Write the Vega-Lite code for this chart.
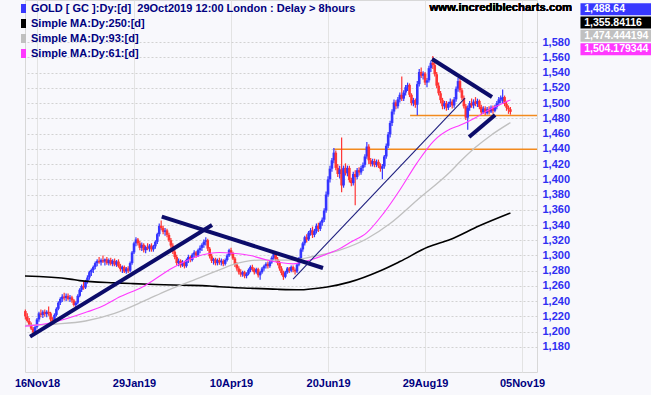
{
  "$schema": "https://vega.github.io/schema/vega-lite/v6.json",
  "width": 512,
  "height": 372,
  "autosize": {"type": "none"},
  "padding": {"left": 25, "top": 0, "right": 114, "bottom": 23},
  "background": "#f8f8fc",
  "datasets": {
    "ohlc": [
      {"i":-6,"o":1227,"h":1229,"l":1216,"c":1220},{"i":-5,"o":1220,"h":1224,"l":1212,"c":1214},{"i":-4,"o":1214,"h":1218,"l":1207,"c":1209},{"i":-3,"o":1209,"h":1212,"l":1202,"c":1204},{"i":-2,"o":1204,"h":1206,"l":1197,"c":1199},{"i":-1,"o":1199,"h":1208,"l":1196,"c":1206},
      {"i":0,"o":1206,"h":1218,"l":1204,"c":1216},{"i":1,"o":1216,"h":1226,"l":1213,"c":1224},{"i":2,"o":1224,"h":1229,"l":1219,"c":1222},{"i":3,"o":1222,"h":1228,"l":1218,"c":1226},{"i":4,"o":1226,"h":1229,"l":1220,"c":1223},{"i":5,"o":1223,"h":1228,"l":1219,"c":1226},{"i":6,"o":1226,"h":1233,"l":1221,"c":1224},{"i":7,"o":1224,"h":1226,"l":1213,"c":1216},{"i":8,"o":1216,"h":1219,"l":1209,"c":1213},{"i":9,"o":1213,"h":1224,"l":1211,"c":1222},
      {"i":10,"o":1222,"h":1232,"l":1220,"c":1230},{"i":11,"o":1230,"h":1240,"l":1228,"c":1238},{"i":12,"o":1238,"h":1245,"l":1235,"c":1243},{"i":13,"o":1243,"h":1249,"l":1239,"c":1246},{"i":14,"o":1246,"h":1251,"l":1241,"c":1244},{"i":15,"o":1244,"h":1250,"l":1240,"c":1247},{"i":16,"o":1247,"h":1250,"l":1241,"c":1243},{"i":17,"o":1243,"h":1248,"l":1239,"c":1245},{"i":18,"o":1245,"h":1247,"l":1238,"c":1241},{"i":19,"o":1241,"h":1243,"l":1233,"c":1235},
      {"i":20,"o":1235,"h":1240,"l":1231,"c":1238},{"i":21,"o":1238,"h":1249,"l":1236,"c":1247},{"i":22,"o":1247,"h":1257,"l":1245,"c":1255},{"i":23,"o":1255,"h":1262,"l":1252,"c":1260},{"i":24,"o":1260,"h":1266,"l":1255,"c":1258},{"i":25,"o":1258,"h":1268,"l":1256,"c":1266},{"i":26,"o":1266,"h":1274,"l":1263,"c":1271},{"i":27,"o":1271,"h":1280,"l":1268,"c":1278},{"i":28,"o":1278,"h":1283,"l":1273,"c":1281},{"i":29,"o":1281,"h":1287,"l":1277,"c":1285},
      {"i":30,"o":1285,"h":1292,"l":1282,"c":1290},{"i":31,"o":1290,"h":1295,"l":1286,"c":1293},{"i":32,"o":1293,"h":1298,"l":1289,"c":1291},{"i":33,"o":1291,"h":1296,"l":1287,"c":1294},{"i":34,"o":1294,"h":1300,"l":1290,"c":1292},{"i":35,"o":1292,"h":1296,"l":1287,"c":1295},{"i":36,"o":1295,"h":1298,"l":1288,"c":1290},{"i":37,"o":1290,"h":1296,"l":1287,"c":1294},{"i":38,"o":1294,"h":1297,"l":1287,"c":1289},{"i":39,"o":1289,"h":1295,"l":1286,"c":1293},
      {"i":40,"o":1293,"h":1296,"l":1286,"c":1288},{"i":41,"o":1288,"h":1294,"l":1285,"c":1292},{"i":42,"o":1292,"h":1295,"l":1284,"c":1286},{"i":43,"o":1286,"h":1289,"l":1279,"c":1282},{"i":44,"o":1282,"h":1287,"l":1277,"c":1285},{"i":45,"o":1285,"h":1287,"l":1277,"c":1279},{"i":46,"o":1279,"h":1285,"l":1276,"c":1283},{"i":47,"o":1283,"h":1286,"l":1277,"c":1280},{"i":48,"o":1280,"h":1292,"l":1278,"c":1290},{"i":49,"o":1290,"h":1306,"l":1288,"c":1304},
      {"i":50,"o":1304,"h":1318,"l":1302,"c":1316},{"i":51,"o":1316,"h":1324,"l":1312,"c":1321},{"i":52,"o":1321,"h":1323,"l":1313,"c":1316},{"i":53,"o":1316,"h":1319,"l":1307,"c":1310},{"i":54,"o":1310,"h":1317,"l":1306,"c":1314},{"i":55,"o":1314,"h":1316,"l":1304,"c":1307},{"i":56,"o":1307,"h":1313,"l":1303,"c":1311},{"i":57,"o":1311,"h":1316,"l":1307,"c":1309},{"i":58,"o":1309,"h":1315,"l":1305,"c":1313},{"i":59,"o":1313,"h":1316,"l":1305,"c":1308},
      {"i":60,"o":1308,"h":1314,"l":1305,"c":1312},{"i":61,"o":1312,"h":1320,"l":1309,"c":1318},{"i":62,"o":1318,"h":1330,"l":1315,"c":1328},{"i":63,"o":1328,"h":1342,"l":1325,"c":1339},{"i":64,"o":1339,"h":1346,"l":1333,"c":1336},{"i":65,"o":1336,"h":1339,"l":1328,"c":1331},{"i":66,"o":1331,"h":1336,"l":1326,"c":1333},{"i":67,"o":1333,"h":1335,"l":1324,"c":1327},{"i":68,"o":1327,"h":1330,"l":1318,"c":1320},{"i":69,"o":1320,"h":1323,"l":1310,"c":1313},
      {"i":70,"o":1313,"h":1316,"l":1302,"c":1305},{"i":71,"o":1305,"h":1308,"l":1295,"c":1298},{"i":72,"o":1298,"h":1301,"l":1287,"c":1290},{"i":73,"o":1290,"h":1296,"l":1286,"c":1293},{"i":74,"o":1293,"h":1295,"l":1284,"c":1287},{"i":75,"o":1287,"h":1294,"l":1285,"c":1291},{"i":76,"o":1291,"h":1293,"l":1283,"c":1286},{"i":77,"o":1286,"h":1296,"l":1284,"c":1294},{"i":78,"o":1294,"h":1301,"l":1290,"c":1298},{"i":79,"o":1298,"h":1300,"l":1291,"c":1294},
      {"i":80,"o":1294,"h":1303,"l":1292,"c":1301},{"i":81,"o":1301,"h":1307,"l":1297,"c":1304},{"i":82,"o":1304,"h":1306,"l":1297,"c":1300},{"i":83,"o":1300,"h":1309,"l":1298,"c":1307},{"i":84,"o":1307,"h":1313,"l":1303,"c":1310},{"i":85,"o":1310,"h":1316,"l":1306,"c":1314},{"i":86,"o":1314,"h":1321,"l":1310,"c":1318},{"i":87,"o":1318,"h":1324,"l":1313,"c":1320},{"i":88,"o":1320,"h":1322,"l":1306,"c":1309},{"i":89,"o":1309,"h":1311,"l":1296,"c":1299},
      {"i":90,"o":1299,"h":1302,"l":1290,"c":1293},{"i":91,"o":1293,"h":1297,"l":1288,"c":1295},{"i":92,"o":1295,"h":1297,"l":1287,"c":1290},{"i":93,"o":1290,"h":1296,"l":1287,"c":1294},{"i":94,"o":1294,"h":1297,"l":1288,"c":1291},{"i":95,"o":1291,"h":1296,"l":1287,"c":1293},{"i":96,"o":1293,"h":1295,"l":1286,"c":1289},{"i":97,"o":1289,"h":1296,"l":1287,"c":1294},{"i":98,"o":1294,"h":1302,"l":1292,"c":1300},{"i":99,"o":1300,"h":1309,"l":1298,"c":1307},
      {"i":100,"o":1307,"h":1310,"l":1300,"c":1303},{"i":101,"o":1303,"h":1305,"l":1294,"c":1296},{"i":102,"o":1296,"h":1298,"l":1285,"c":1288},{"i":103,"o":1288,"h":1291,"l":1280,"c":1283},{"i":104,"o":1283,"h":1286,"l":1275,"c":1278},{"i":105,"o":1278,"h":1282,"l":1272,"c":1275},{"i":106,"o":1275,"h":1280,"l":1272,"c":1278},{"i":107,"o":1278,"h":1280,"l":1270,"c":1273},{"i":108,"o":1273,"h":1278,"l":1270,"c":1276},{"i":109,"o":1276,"h":1283,"l":1274,"c":1281},
      {"i":110,"o":1281,"h":1287,"l":1278,"c":1285},{"i":111,"o":1285,"h":1288,"l":1279,"c":1282},{"i":112,"o":1282,"h":1284,"l":1275,"c":1278},{"i":113,"o":1278,"h":1284,"l":1276,"c":1282},{"i":114,"o":1282,"h":1284,"l":1271,"c":1274},{"i":115,"o":1274,"h":1280,"l":1268,"c":1278},{"i":116,"o":1278,"h":1285,"l":1276,"c":1283},{"i":117,"o":1283,"h":1288,"l":1280,"c":1286},{"i":118,"o":1286,"h":1291,"l":1283,"c":1289},{"i":119,"o":1289,"h":1292,"l":1283,"c":1286},
      {"i":120,"o":1286,"h":1293,"l":1284,"c":1291},{"i":121,"o":1291,"h":1299,"l":1289,"c":1297},{"i":122,"o":1297,"h":1306,"l":1294,"c":1302},{"i":123,"o":1302,"h":1304,"l":1292,"c":1295},{"i":124,"o":1295,"h":1298,"l":1287,"c":1290},{"i":125,"o":1290,"h":1293,"l":1280,"c":1283},{"i":126,"o":1283,"h":1286,"l":1274,"c":1277},{"i":127,"o":1277,"h":1280,"l":1268,"c":1272},{"i":128,"o":1272,"h":1280,"l":1270,"c":1278},{"i":129,"o":1278,"h":1285,"l":1276,"c":1283},
      {"i":130,"o":1283,"h":1285,"l":1277,"c":1280},{"i":131,"o":1280,"h":1287,"l":1278,"c":1285},{"i":132,"o":1285,"h":1287,"l":1278,"c":1281},{"i":133,"o":1281,"h":1283,"l":1275,"c":1279},{"i":134,"o":1279,"h":1290,"l":1277,"c":1288},{"i":135,"o":1288,"h":1298,"l":1286,"c":1296},{"i":136,"o":1296,"h":1310,"l":1294,"c":1308},{"i":137,"o":1308,"h":1318,"l":1305,"c":1316},{"i":138,"o":1316,"h":1326,"l":1313,"c":1324},{"i":139,"o":1324,"h":1328,"l":1317,"c":1321},
      {"i":140,"o":1321,"h":1332,"l":1319,"c":1330},{"i":141,"o":1330,"h":1336,"l":1326,"c":1333},{"i":142,"o":1333,"h":1338,"l":1323,"c":1327},{"i":143,"o":1327,"h":1335,"l":1324,"c":1332},{"i":144,"o":1332,"h":1342,"l":1329,"c":1339},{"i":145,"o":1339,"h":1343,"l":1331,"c":1335},{"i":146,"o":1335,"h":1345,"l":1332,"c":1343},{"i":147,"o":1343,"h":1350,"l":1339,"c":1347},{"i":148,"o":1347,"h":1362,"l":1344,"c":1359},{"i":149,"o":1359,"h":1384,"l":1356,"c":1380},
      {"i":150,"o":1380,"h":1404,"l":1377,"c":1400},{"i":151,"o":1400,"h":1418,"l":1396,"c":1414},{"i":152,"o":1414,"h":1428,"l":1410,"c":1425},{"i":153,"o":1425,"h":1441,"l":1421,"c":1435},{"i":154,"o":1435,"h":1438,"l":1412,"c":1415},{"i":155,"o":1415,"h":1420,"l":1403,"c":1407},{"i":156,"o":1407,"h":1418,"l":1401,"c":1413},{"i":157,"o":1413,"h":1455,"l":1383,"c":1392},{"i":158,"o":1392,"h":1418,"l":1389,"c":1415},{"i":159,"o":1415,"h":1421,"l":1405,"c":1408},
      {"i":160,"o":1408,"h":1418,"l":1404,"c":1415},{"i":161,"o":1415,"h":1418,"l":1396,"c":1399},{"i":162,"o":1399,"h":1402,"l":1391,"c":1395},{"i":163,"o":1395,"h":1410,"l":1392,"c":1407},{"i":164,"o":1407,"h":1412,"l":1366,"c":1403},{"i":165,"o":1403,"h":1415,"l":1400,"c":1412},{"i":166,"o":1412,"h":1416,"l":1405,"c":1409},{"i":167,"o":1409,"h":1418,"l":1406,"c":1415},{"i":168,"o":1415,"h":1422,"l":1411,"c":1419},{"i":169,"o":1419,"h":1433,"l":1416,"c":1430},
      {"i":170,"o":1430,"h":1449,"l":1427,"c":1443},{"i":171,"o":1443,"h":1446,"l":1420,"c":1425},{"i":172,"o":1425,"h":1428,"l":1417,"c":1420},{"i":173,"o":1420,"h":1427,"l":1417,"c":1424},{"i":174,"o":1424,"h":1427,"l":1416,"c":1419},{"i":175,"o":1419,"h":1426,"l":1416,"c":1423},{"i":176,"o":1423,"h":1426,"l":1415,"c":1418},{"i":177,"o":1418,"h":1421,"l":1410,"c":1414},{"i":178,"o":1414,"h":1420,"l":1400,"c":1417},{"i":179,"o":1417,"h":1432,"l":1414,"c":1430},
      {"i":180,"o":1430,"h":1447,"l":1427,"c":1444},{"i":181,"o":1444,"h":1462,"l":1441,"c":1459},{"i":182,"o":1459,"h":1477,"l":1455,"c":1474},{"i":183,"o":1474,"h":1492,"l":1470,"c":1489},{"i":184,"o":1489,"h":1505,"l":1485,"c":1501},{"i":185,"o":1501,"h":1504,"l":1492,"c":1496},{"i":186,"o":1496,"h":1508,"l":1493,"c":1505},{"i":187,"o":1505,"h":1514,"l":1501,"c":1511},{"i":188,"o":1511,"h":1535,"l":1503,"c":1506},{"i":189,"o":1506,"h":1517,"l":1503,"c":1514},
      {"i":190,"o":1514,"h":1524,"l":1510,"c":1521},{"i":191,"o":1521,"h":1527,"l":1516,"c":1524},{"i":192,"o":1524,"h":1526,"l":1508,"c":1511},{"i":193,"o":1511,"h":1513,"l":1497,"c":1500},{"i":194,"o":1500,"h":1507,"l":1496,"c":1504},{"i":195,"o":1504,"h":1506,"l":1494,"c":1498},{"i":196,"o":1498,"h":1529,"l":1484,"c":1525},{"i":197,"o":1525,"h":1545,"l":1522,"c":1541},{"i":198,"o":1541,"h":1547,"l":1533,"c":1536},{"i":199,"o":1536,"h":1542,"l":1531,"c":1539},
      {"i":200,"o":1539,"h":1541,"l":1524,"c":1527},{"i":201,"o":1527,"h":1533,"l":1521,"c":1530},{"i":202,"o":1530,"h":1549,"l":1527,"c":1546},{"i":203,"o":1546,"h":1556,"l":1541,"c":1553},{"i":204,"o":1553,"h":1562,"l":1545,"c":1550},{"i":205,"o":1550,"h":1554,"l":1535,"c":1538},{"i":206,"o":1538,"h":1541,"l":1520,"c":1523},{"i":207,"o":1523,"h":1527,"l":1510,"c":1513},{"i":208,"o":1513,"h":1516,"l":1500,"c":1504},{"i":209,"o":1504,"h":1507,"l":1492,"c":1496},
      {"i":210,"o":1496,"h":1503,"l":1492,"c":1500},{"i":211,"o":1500,"h":1503,"l":1490,"c":1494},{"i":212,"o":1494,"h":1502,"l":1491,"c":1499},{"i":213,"o":1499,"h":1506,"l":1495,"c":1502},{"i":214,"o":1502,"h":1505,"l":1493,"c":1497},{"i":215,"o":1497,"h":1508,"l":1494,"c":1505},{"i":216,"o":1505,"h":1522,"l":1502,"c":1519},{"i":217,"o":1519,"h":1533,"l":1515,"c":1529},{"i":218,"o":1529,"h":1532,"l":1514,"c":1517},{"i":219,"o":1517,"h":1520,"l":1504,"c":1507},
      {"i":220,"o":1507,"h":1510,"l":1493,"c":1496},{"i":221,"o":1496,"h":1499,"l":1478,"c":1481},{"i":222,"o":1481,"h":1497,"l":1465,"c":1494},{"i":223,"o":1494,"h":1503,"l":1490,"c":1500},{"i":224,"o":1500,"h":1506,"l":1494,"c":1497},{"i":225,"o":1497,"h":1505,"l":1493,"c":1502},{"i":226,"o":1502,"h":1508,"l":1496,"c":1499},{"i":227,"o":1499,"h":1506,"l":1495,"c":1503},{"i":228,"o":1503,"h":1505,"l":1492,"c":1495},{"i":229,"o":1495,"h":1498,"l":1485,"c":1488},
      {"i":230,"o":1488,"h":1496,"l":1486,"c":1493},{"i":231,"o":1493,"h":1496,"l":1484,"c":1487},{"i":232,"o":1487,"h":1495,"l":1485,"c":1492},{"i":233,"o":1492,"h":1496,"l":1485,"c":1489},{"i":234,"o":1489,"h":1497,"l":1487,"c":1494},{"i":235,"o":1494,"h":1497,"l":1486,"c":1490},{"i":236,"o":1490,"h":1498,"l":1488,"c":1495},{"i":237,"o":1495,"h":1503,"l":1492,"c":1500},{"i":238,"o":1500,"h":1508,"l":1497,"c":1505},{"i":239,"o":1505,"h":1510,"l":1500,"c":1507},
      {"i":240,"o":1503,"h":1518,"l":1500,"c":1508},{"i":241,"o":1508,"h":1510,"l":1496,"c":1499},{"i":242,"o":1499,"h":1503,"l":1490,"c":1494},{"i":243,"o":1494,"h":1497,"l":1486,"c":1492},{"i":244,"o":1492,"h":1495,"l":1485,"c":1488.64}
    ],
    "ma": [
      {"s":"Simple MA:Dy:250:[d]","i":-6.2,"v":1273},{"s":"Simple MA:Dy:250:[d]","i":17,"v":1269},{"s":"Simple MA:Dy:250:[d]","i":22,"v":1267},{"s":"Simple MA:Dy:250:[d]","i":40,"v":1264},{"s":"Simple MA:Dy:250:[d]","i":49.5,"v":1263},{"s":"Simple MA:Dy:250:[d]","i":61,"v":1262},{"s":"Simple MA:Dy:250:[d]","i":75,"v":1261},{"s":"Simple MA:Dy:250:[d]","i":89,"v":1260},{"s":"Simple MA:Dy:250:[d]","i":94,"v":1259},{"s":"Simple MA:Dy:250:[d]","i":110,"v":1257},{"s":"Simple MA:Dy:250:[d]","i":124,"v":1255.6},{"s":"Simple MA:Dy:250:[d]","i":136,"v":1255},{"s":"Simple MA:Dy:250:[d]","i":141,"v":1256},{"s":"Simple MA:Dy:250:[d]","i":149.5,"v":1258.6},{"s":"Simple MA:Dy:250:[d]","i":161,"v":1265},{"s":"Simple MA:Dy:250:[d]","i":177,"v":1280},{"s":"Simple MA:Dy:250:[d]","i":187,"v":1292},{"s":"Simple MA:Dy:250:[d]","i":201.5,"v":1311},{"s":"Simple MA:Dy:250:[d]","i":213,"v":1321},{"s":"Simple MA:Dy:250:[d]","i":228,"v":1339},{"s":"Simple MA:Dy:250:[d]","i":244,"v":1355.84},
      {"s":"Simple MA:Dy:93:[d]","i":-6.2,"v":1208},{"s":"Simple MA:Dy:93:[d]","i":10,"v":1210},{"s":"Simple MA:Dy:93:[d]","i":25,"v":1214},{"s":"Simple MA:Dy:93:[d]","i":40,"v":1224},{"s":"Simple MA:Dy:93:[d]","i":55,"v":1240},{"s":"Simple MA:Dy:93:[d]","i":67,"v":1254},{"s":"Simple MA:Dy:93:[d]","i":84,"v":1271},{"s":"Simple MA:Dy:93:[d]","i":94,"v":1281},{"s":"Simple MA:Dy:93:[d]","i":101,"v":1288},{"s":"Simple MA:Dy:93:[d]","i":115,"v":1294},{"s":"Simple MA:Dy:93:[d]","i":132,"v":1294},{"s":"Simple MA:Dy:93:[d]","i":141,"v":1298},{"s":"Simple MA:Dy:93:[d]","i":156,"v":1307},{"s":"Simple MA:Dy:93:[d]","i":170,"v":1322},{"s":"Simple MA:Dy:93:[d]","i":182,"v":1342},{"s":"Simple MA:Dy:93:[d]","i":196,"v":1373},{"s":"Simple MA:Dy:93:[d]","i":213,"v":1410},{"s":"Simple MA:Dy:93:[d]","i":218,"v":1423},{"s":"Simple MA:Dy:93:[d]","i":226,"v":1442},{"s":"Simple MA:Dy:93:[d]","i":233.5,"v":1457},{"s":"Simple MA:Dy:93:[d]","i":244,"v":1474.44},
      {"s":"Simple MA:Dy:61:[d]","i":-6.2,"v":1207},{"s":"Simple MA:Dy:61:[d]","i":8,"v":1212},{"s":"Simple MA:Dy:61:[d]","i":26,"v":1226},{"s":"Simple MA:Dy:61:[d]","i":32.5,"v":1232},{"s":"Simple MA:Dy:61:[d]","i":43,"v":1246},{"s":"Simple MA:Dy:61:[d]","i":54.6,"v":1259},{"s":"Simple MA:Dy:61:[d]","i":70,"v":1284},{"s":"Simple MA:Dy:61:[d]","i":84,"v":1300},{"s":"Simple MA:Dy:61:[d]","i":94,"v":1304},{"s":"Simple MA:Dy:61:[d]","i":101,"v":1303},{"s":"Simple MA:Dy:61:[d]","i":110,"v":1300},{"s":"Simple MA:Dy:61:[d]","i":118.5,"v":1294},{"s":"Simple MA:Dy:61:[d]","i":132,"v":1289},{"s":"Simple MA:Dy:61:[d]","i":140.7,"v":1294},{"s":"Simple MA:Dy:61:[d]","i":149.5,"v":1302},{"s":"Simple MA:Dy:61:[d]","i":156,"v":1309},{"s":"Simple MA:Dy:61:[d]","i":161.3,"v":1317},{"s":"Simple MA:Dy:61:[d]","i":170,"v":1330},{"s":"Simple MA:Dy:61:[d]","i":178.5,"v":1355},{"s":"Simple MA:Dy:61:[d]","i":187,"v":1386},{"s":"Simple MA:Dy:61:[d]","i":195.7,"v":1421},{"s":"Simple MA:Dy:61:[d]","i":204.3,"v":1450},{"s":"Simple MA:Dy:61:[d]","i":213,"v":1466},{"s":"Simple MA:Dy:61:[d]","i":218,"v":1471},{"s":"Simple MA:Dy:61:[d]","i":226,"v":1481},{"s":"Simple MA:Dy:61:[d]","i":233.5,"v":1492},{"s":"Simple MA:Dy:61:[d]","i":241,"v":1501},{"s":"Simple MA:Dy:61:[d]","i":244,"v":1504.18}
    ],
    "trend": [
      {"i1":-3.6,"p1":1193.4,"i2":90.2,"p2":1340.0},
      {"i1":64.3,"p1":1351.0,"i2":147.4,"p2":1283.6},
      {"i1":203.6,"p1":1558.0,"i2":234.5,"p2":1508.1},
      {"i1":222.7,"p1":1455.6,"i2":236.1,"p2":1484.5}
    ],
    "thin": [
      {"i1":132,"p1":1269.1,"i2":220.6,"p2":1506.8}
    ],
    "levels": [
      {"i1":153.1,"i2":257.7,"p":1439.4},
      {"i1":192.3,"i2":257.7,"p":1483.8}
    ],
    "tags": [
      {"s":"GOLD [ GC ]:Dy:[d] \u00a029Oct2019 12:00 London : Delay > 8hours","v":"1,488.64"},
      {"s":"Simple MA:Dy:250:[d]","v":"1,355.84116"},
      {"s":"Simple MA:Dy:93:[d]","v":"1,474.444194"},
      {"s":"Simple MA:Dy:61:[d]","v":"1,504.179344"}
    ]
  },
  "layer": [
    {
      "layer": [
        {
          "data": {"name": "levels"},
          "mark": {"type": "rule", "color": "#f28a1e", "strokeWidth": 1.5},
          "encoding": {
            "x": {"field": "i1", "type": "quantitative", "scale": {"domain": [-6.19, 257.7], "nice": false, "zero": false}, "axis": {"values": [0, 50, 100, 150, 200, 250], "tickCount": 30, "labelExpr": "['16Nov18','29Jan19','10Apr19','20Jun19','29Aug19','05Nov19'][round(datum.value/50)]", "labelColor": "#000080", "labelFontWeight": "bold", "labelFontSize": 11, "labelFont": "Liberation Sans", "labelPadding": 5, "labelFlush": false, "labelOverlap": false, "gridColor": "#e3e3e3", "title": null}},
            "x2": {"field": "i2"},
            "y": {"field": "p", "type": "quantitative", "scale": {"domain": [1147, 1635.5], "nice": false, "zero": false}, "axis": {"orient": "right", "values": [1180,1200,1220,1240,1260,1280,1300,1320,1340,1360,1380,1400,1420,1440,1460,1480,1500,1520,1540,1560,1580], "tickCount": 40, "format": ",d", "labelColor": "#2e2ef2", "labelFontWeight": "bold", "labelFontSize": 11, "labelFont": "Liberation Sans", "labelPadding": 5, "labelFlush": false, "labelOverlap": false, "labelSeparation": 0, "gridColor": "#d2d2d2", "gridDash": [2, 2], "title": null}}
          }
        },
        {
          "data": {"name": "ohlc"},
          "mark": {"type": "rule", "strokeWidth": 1.2},
          "encoding": {
            "x": {"field": "i", "type": "quantitative", "scale": {"domain": [-6.19, 257.7], "nice": false, "zero": false}},
            "y": {"field": "l", "type": "quantitative", "scale": {"domain": [1147, 1635.5], "nice": false, "zero": false}},
            "y2": {"field": "h"},
            "color": {"condition": {"test": "datum.c < datum.o", "value": "#ff3535"}, "value": "#3535ff"}
          }
        },
        {
          "data": {"name": "ohlc"},
          "mark": {"type": "rule", "strokeWidth": 2.6},
          "encoding": {
            "x": {"field": "i", "type": "quantitative", "scale": {"domain": [-6.19, 257.7], "nice": false, "zero": false}},
            "y": {"field": "o", "type": "quantitative", "scale": {"domain": [1147, 1635.5], "nice": false, "zero": false}},
            "y2": {"field": "c"},
            "color": {"condition": {"test": "datum.c < datum.o", "value": "#ff3535"}, "value": "#3535ff"}
          }
        },
        {
          "data": {"name": "ma"},
          "mark": {"type": "line", "interpolate": "monotone"},
          "encoding": {
            "x": {"field": "i", "type": "quantitative", "scale": {"domain": [-6.19, 257.7], "nice": false, "zero": false}},
            "y": {"field": "v", "type": "quantitative", "scale": {"domain": [1147, 1635.5], "nice": false, "zero": false}},
            "strokeWidth": {"field": "s", "type": "nominal", "scale": {"domain": ["Simple MA:Dy:250:[d]", "Simple MA:Dy:93:[d]", "Simple MA:Dy:61:[d]"], "range": [1.6, 1.1, 1.1]}, "legend": null},
            "color": {"field": "s", "type": "nominal",
              "scale": {"domain": ["GOLD [ GC ]:Dy:[d] \u00a029Oct2019 12:00 London : Delay > 8hours", "Simple MA:Dy:250:[d]", "Simple MA:Dy:93:[d]", "Simple MA:Dy:61:[d]"], "range": ["#3838ff", "#000000", "#c0c0c0", "#ff38ff"]},
              "legend": {"orient": "none", "legendX": -7, "legendY": 3, "direction": "vertical", "title": null, "padding": 0, "rowPadding": 3, "symbolType": "M-0.55,-1h1.1v2h-1.1z", "symbolSize": 81, "symbolStrokeWidth": 0, "symbolOpacity": 1, "labelFont": "Liberation Sans", "labelFontSize": 11, "labelFontWeight": "bold", "labelColor": "#000080", "labelLimit": 500, "labelOffset": 2,
                "encode": {"symbols": {"update": {"fill": {"scale": "color", "field": "value"}, "stroke": {"value": "transparent"}}}}}}
          }
        },
        {
          "data": {"name": "trend"},
          "mark": {"type": "rule", "color": "#0c0c6a", "strokeWidth": 4},
          "encoding": {
            "x": {"field": "i1", "type": "quantitative", "scale": {"domain": [-6.19, 257.7], "nice": false, "zero": false}},
            "x2": {"field": "i2"},
            "y": {"field": "p1", "type": "quantitative", "scale": {"domain": [1147, 1635.5], "nice": false, "zero": false}},
            "y2": {"field": "p2"}
          }
        },
        {
          "data": {"name": "thin"},
          "mark": {"type": "rule", "color": "#1e1e7e", "strokeWidth": 1.1},
          "encoding": {
            "x": {"field": "i1", "type": "quantitative", "scale": {"domain": [-6.19, 257.7], "nice": false, "zero": false}},
            "x2": {"field": "i2"},
            "y": {"field": "p1", "type": "quantitative", "scale": {"domain": [1147, 1635.5], "nice": false, "zero": false}},
            "y2": {"field": "p2"}
          }
        }
      ]
    },
    {
      "data": {"name": "tags"},
      "layer": [
        {
          "mark": {"type": "tick", "orient": "vertical", "thickness": 71, "size": 12, "opacity": 1},
          "encoding": {
            "x": {"datum": 298.4, "type": "quantitative", "scale": {"domain": [-6.19, 257.7], "nice": false, "zero": false}, "axis": null},
            "y": {"field": "s", "type": "ordinal", "scale": {"type": "point", "domain": ["GOLD [ GC ]:Dy:[d] \u00a029Oct2019 12:00 London : Delay > 8hours", "Simple MA:Dy:250:[d]", "Simple MA:Dy:93:[d]", "Simple MA:Dy:61:[d]"], "range": [9.2, 49.2], "padding": 0}, "axis": null},
            "color": {"field": "s", "type": "nominal",
              "scale": {"domain": ["GOLD [ GC ]:Dy:[d] \u00a029Oct2019 12:00 London : Delay > 8hours", "Simple MA:Dy:250:[d]", "Simple MA:Dy:93:[d]", "Simple MA:Dy:61:[d]"], "range": ["#3838ff", "#000000", "#c0c0c0", "#ff38ff"]},
              "legend": {"orient": "none", "legendX": -7, "legendY": 3, "direction": "vertical", "title": null, "padding": 0, "rowPadding": 3, "symbolType": "M-0.55,-1h1.1v2h-1.1z", "symbolSize": 81, "symbolStrokeWidth": 0, "symbolOpacity": 1, "labelFont": "Liberation Sans", "labelFontSize": 11, "labelFontWeight": "bold", "labelColor": "#000080", "labelLimit": 500, "labelOffset": 2,
                "encode": {"symbols": {"update": {"fill": {"scale": "color", "field": "value"}, "stroke": {"value": "transparent"}}}}}}
          }
        },
        {
          "mark": {"type": "text", "align": "left", "baseline": "middle", "color": "#ffffff", "font": "Liberation Sans", "fontSize": 10.5, "fontWeight": "bold"},
          "encoding": {
            "x": {"datum": 282, "type": "quantitative", "scale": {"domain": [-6.19, 257.7], "nice": false, "zero": false}, "axis": null},
            "y": {"field": "s", "type": "ordinal", "scale": {"type": "point", "domain": ["GOLD [ GC ]:Dy:[d] \u00a029Oct2019 12:00 London : Delay > 8hours", "Simple MA:Dy:250:[d]", "Simple MA:Dy:93:[d]", "Simple MA:Dy:61:[d]"], "range": [9.2, 49.2], "padding": 0}, "axis": null},
            "text": {"field": "v"}
          }
        },
        {
          "mark": {"type": "text", "align": "right", "baseline": "middle", "color": "#000000", "font": "Liberation Sans", "fontSize": 11.3, "fontWeight": "bold", "dy": -1},
          "encoding": {
            "x": {"datum": 275.8, "type": "quantitative", "scale": {"domain": [-6.19, 257.7], "nice": false, "zero": false}, "axis": null},
            "y": {"datum": "GOLD [ GC ]:Dy:[d] \u00a029Oct2019 12:00 London : Delay > 8hours", "type": "ordinal", "scale": {"type": "point", "domain": ["GOLD [ GC ]:Dy:[d] \u00a029Oct2019 12:00 London : Delay > 8hours", "Simple MA:Dy:250:[d]", "Simple MA:Dy:93:[d]", "Simple MA:Dy:61:[d]"], "range": [9.2, 49.2], "padding": 0}, "axis": null},
            "text": {"value": "www.incrediblecharts.com"}
          }
        }
      ]
    }
  ],
  "resolve": {"scale": {"x": "independent", "y": "independent"}},
  "config": {
    "font": "Liberation Sans",
    "view": {"stroke": "#d8d8d8"},
    "axis": {"domain": false, "ticks": false, "tickSize": 0, "labelOverlap": false, "labelSeparation": 0},
    "mark": {"clip": false}
  }
}
